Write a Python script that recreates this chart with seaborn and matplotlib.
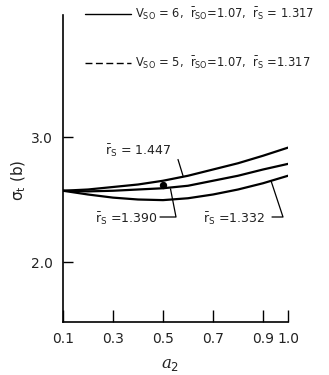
import numpy as np
import pandas as pd
import seaborn as sns
import matplotlib.pyplot as plt
from matplotlib.lines import Line2D

# Total cross section sigma_t (barns) versus a2 for three r_S values
a2 = [0.1, 0.2, 0.3, 0.4, 0.5, 0.6, 0.7, 0.8, 0.9, 1.0]
sigma_rs_1447 = [2.57, 2.58, 2.60, 2.62, 2.65, 2.69, 2.74, 2.79, 2.85, 2.915]
sigma_rs_1390 = [2.57, 2.565, 2.57, 2.58, 2.59, 2.61, 2.65, 2.69, 2.74, 2.785]
sigma_rs_1332 = [2.57, 2.54, 2.515, 2.50, 2.495, 2.51, 2.54, 2.58, 2.63, 2.69]
rs_values = ["1.447", "1.390", "1.332"]

# experimental point
point_a2 = [0.5]
point_sigma = [2.616]

x_ticks = [0.1, 0.3, 0.5, 0.7, 0.9, 1.0]
x_tick_labels = ["0.1", "0.3", "0.5", "0.7", "0.9", "1.0"]
y_ticks = [2.0, 3.0]
y_tick_labels = ["2.0", "3.0"]

legend_labels = [
    r"V$_{\rm SO}$ = 6,  $\bar{\rm r}_{\rm SO}$=1.07,  $\bar{\rm r}_{\rm S}$ = 1.317",
    r"V$_{\rm SO}$ = 5,  $\bar{\rm r}_{\rm SO}$=1.07,  $\bar{\rm r}_{\rm S}$ =1.317",
]

df = pd.DataFrame({
    "a2": a2 * 3,
    "sigma": sigma_rs_1447 + sigma_rs_1390 + sigma_rs_1332,
    "rs": [rs_values[0]] * len(a2) + [rs_values[1]] * len(a2) + [rs_values[2]] * len(a2),
})

sns.set_theme(style="ticks")
plt.rcParams["font.family"] = ["DejaVu Sans"]
plt.rcParams["mathtext.fontset"] = "custom"
plt.rcParams["mathtext.rm"] = "DejaVu Sans"
plt.rcParams["mathtext.it"] = "DejaVu Serif:italic"
plt.rcParams["mathtext.default"] = "regular"

fig = plt.figure(figsize=(3.29, 3.75), dpi=100)
fig.patch.set_facecolor("white")
ax = fig.add_axes([63 / 329, 1 - 322 / 375, 225 / 329, 307 / 375])
ax.set_facecolor("white")

sns.lineplot(data=df, x="a2", y="sigma", hue="rs", palette=["black"] * 3,
             estimator=None, legend=False, linewidth=1.6, ax=ax)
sns.scatterplot(x=point_a2, y=point_sigma, color="black", s=28,
                edgecolor="black", linewidth=0, ax=ax, zorder=5)

ax.set_xlim(0.1, 1.0)
ax.set_ylim(1.52, 3.976)
ax.set_xticks(x_ticks)
ax.set_xticklabels(x_tick_labels)
ax.set_yticks(y_ticks)
ax.set_yticklabels(y_tick_labels)
ax.tick_params(direction="in", length=7, width=1.0, labelsize=10, color="black",
               labelcolor="#222222", pad=7)
ax.tick_params(axis="x", length=9)
ax.set_xlabel("")
ax.set_ylabel("")
for side in ["top", "right"]:
    ax.spines[side].set_visible(False)
for side in ["left", "bottom"]:
    ax.spines[side].set_linewidth(1.2)
    ax.spines[side].set_color("black")

# curve labels with leader lines
lbl_kw = dict(fontsize=9, color="#222222", va="center", ha="left")
ax.text(0.268, 2.89, r"$\bar{\rm r}_{\rm S}$ = 1.447", **lbl_kw)
ax.plot([0.56, 0.58], [2.82, 2.69], color="black", lw=0.9)

ax.text(0.228, 2.345, r"$\bar{\rm r}_{\rm S}$ =1.390", **lbl_kw)
ax.plot([0.488, 0.552, 0.53], [2.36, 2.36, 2.585], color="black", lw=0.9)

ax.text(0.66, 2.345, r"$\bar{\rm r}_{\rm S}$ =1.332", **lbl_kw)
ax.plot([0.936, 0.98, 0.932], [2.36, 2.36, 2.65], color="black", lw=0.9)

handles = [Line2D([], [], color="black", lw=1.0),
           Line2D([], [], color="black", lw=1.0, linestyle=(0, (5, 2.5)))]
ax.legend(handles, legend_labels, loc="upper left",
          bbox_to_anchor=(85 / 329, 1 - 6 / 375), bbox_transform=fig.transFigure,
          frameon=False, borderpad=0, borderaxespad=0, handlelength=4.0,
          handletextpad=0.35, labelspacing=2.75, fontsize=8.3,
          labelcolor="#222222")

fig.text(19 / 329, 1 - 180 / 375, r"$\sigma_{\rm t}$ (b)", rotation=90,
         ha="center", va="center", fontsize=11, color="#222222")
fig.text(170 / 329, 1 - 364 / 375, r"$\mathit{a}_2$", ha="center", va="center",
         fontsize=12, color="#222222")

fig.savefig("out.png", dpi=100, facecolor="white")
